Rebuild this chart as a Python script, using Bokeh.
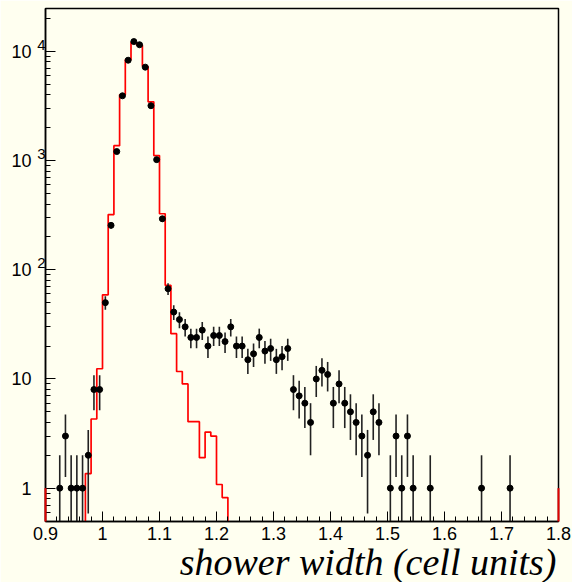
import numpy as np
from bokeh.plotting import figure
from bokeh.models import Range1d, FixedTicker, LogAxis, Title
from bokeh.embed import file_html
from bokeh.resources import INLINE

# ---------------- data ----------------
bin_width = 0.01

# measured data: bin centres and counts (Poisson errors)
data_x = [0.925, 0.935, 0.945, 0.955, 0.965, 0.975, 0.985, 0.995,
          1.005, 1.015, 1.025, 1.035, 1.045, 1.055, 1.065, 1.075, 1.085, 1.095,
          1.105, 1.115, 1.125, 1.135, 1.145, 1.155, 1.165, 1.175, 1.185, 1.195,
          1.205, 1.215, 1.225, 1.235, 1.245, 1.255, 1.265, 1.275, 1.285, 1.295,
          1.305, 1.315, 1.325, 1.335, 1.345, 1.355, 1.365, 1.375, 1.385, 1.395,
          1.405, 1.415, 1.425, 1.435, 1.445, 1.455, 1.465, 1.475, 1.485,
          1.505, 1.515, 1.525, 1.535, 1.545, 1.575, 1.665, 1.715]
data_n = [1, 3, 1, 1, 1, 2, 8, 8,
          50, 255, 1210, 3920, 8300, 12300, 11500, 7170, 3180, 1020,
          293, 67, 41, 35, 30, 24, 24, 28, 20, 25,
          25, 22, 30, 20, 20, 15, 17, 24, 18, 19,
          15, 16, 19, 8, 7, 6, 4, 10, 12, 11,
          6, 9, 6, 5, 4, 3, 2, 5, 4,
          1, 3, 1, 3, 1, 1, 1, 1]

# simulation histogram (red): first bin low edge and bin contents
mc_first_edge = 0.97
mc_values = [1.36, 4.3, 12.4, 59, 320, 1370, 4000, 8400, 12100, 11400,
             7270, 3450, 1110, 326, 72, 26, 11.7, 9.0, 4.06, 4.06,
             1.9, 3.26, 3.0, 1.08, 0.82]
mc_frame_edges = [0.9, 1.8]
mc_frame_level = [1.0, 1.0]

x_ticks = [0.9, 1.0, 1.1, 1.2, 1.3, 1.4, 1.5, 1.6, 1.7, 1.8]
x_tick_labels = ["0.9", "1", "1.1", "1.2", "1.3", "1.4", "1.5", "1.6", "1.7", "1.8"]
y_ticks = [1, 10, 100, 1000, 10000]
y_label_base = ["1", "10", "10", "10", "10"]
y_label_exp = [" ", " ", "2", "3", "4"]
x_title = "shower width (cell units)"

# ---------------- plot ----------------
bg = "#FFFFF0"
ymin, ymax = 0.495, 24700
floor = 1e-2

p = figure(width=572, height=582, x_range=Range1d(0.9, 1.8),
           y_range=Range1d(ymin, ymax), y_axis_type="log",
           output_backend="svg", toolbar_location=None,
           min_border_left=45, min_border_right=14, min_border_top=8,
           min_border_bottom=61, background_fill_color=bg, border_fill_color=bg)
p.xgrid.visible = False
p.ygrid.visible = False
p.outline_line_color = "black"
p.outline_line_width = 1.5

x_minor = [round(0.9 + 0.02 * i, 2) for i in range(1, 45) if i % 5 != 0]
y_minor = [m * 10.0 ** k for k in range(-1, 5) for m in range(2, 10)
           if ymin <= m * 10.0 ** k <= ymax]
p.xaxis.ticker = FixedTicker(ticks=x_ticks, minor_ticks=x_minor)
p.yaxis.ticker = FixedTicker(ticks=y_ticks, minor_ticks=y_minor)
p.xaxis.major_label_overrides = dict(zip(x_ticks, x_tick_labels))

for ax in (p.xaxis[0], p.yaxis[0]):
    ax.major_tick_in = 10
    ax.major_tick_out = 0
    ax.minor_tick_in = 5
    ax.minor_tick_out = 0
    ax.axis_line_width = 1.5
    ax.axis_line_color = "black"
    ax.major_tick_line_color = "black"
    ax.minor_tick_line_color = "black"
    ax.major_tick_line_width = 1
    ax.minor_tick_line_width = 1

p.xaxis.major_label_text_font = "Liberation Sans"
p.xaxis.major_label_text_font_size = "18px"
p.xaxis.major_label_text_color = "black"
p.xaxis.major_label_standoff = 5

# inner y axis: exponents of the decade labels, raised above each tick
ya = p.yaxis[0]
ya.major_label_overrides = {t: e + "\n " for t, e in zip(y_ticks, y_label_exp)}
ya.major_label_text_font = "Liberation Sans"
ya.major_label_text_font_size = "15px"
ya.major_label_text_line_height = 0.8
ya.major_label_text_color = "black"
ya.major_label_standoff = 0

# outer y axis: mantissa "10" / "1"
yb = LogAxis(ticker=FixedTicker(ticks=y_ticks, minor_ticks=[]),
             major_label_overrides=dict(zip(y_ticks, y_label_base)),
             axis_line_color=None, major_tick_line_color=None,
             minor_tick_line_color=None, major_tick_in=0, major_tick_out=0,
             minor_tick_in=0, minor_tick_out=0, major_label_standoff=3,
             major_label_text_font="Liberation Sans",
             major_label_text_font_size="18px", major_label_text_color="black")
p.add_layout(yb, "left")

# axis title, right aligned below the x axis
p.add_layout(Title(text=x_title, align="right", offset=2, standoff=-7,
                   vertical_align="bottom",
                   text_font="Liberation Serif, Times New Roman, serif",
                   text_font_style="italic",
                   text_font_size="38px", text_color="black"), "below")

# red simulation outline
edges = mc_first_edge + bin_width * np.arange(len(mc_values) + 1)
step_x = np.repeat(edges, 2)
step_y = np.concatenate([[floor], np.repeat(mc_values, 2), [floor]])
p.line(step_x, step_y, line_color="#FF0000", line_width=1.7)
edge_r = p.segment(x0=mc_frame_edges, y0=[ymin] * len(mc_frame_edges),
                   x1=mc_frame_edges, y1=mc_frame_level, line_color="#E00000", line_width=2)
edge_r.level = "overlay"

# data points with sqrt(N) errors
n = np.array(data_n, dtype=float)
err = np.sqrt(n)
lo = np.where(n - err > 0, n - err, floor)
hi = n + err
p.segment(x0=data_x, x1=data_x, y0=lo, y1=hi, line_color="#222222", line_width=1.6)
p.scatter(data_x, data_n, size=6, color="black")

open("out.html", "w").write(file_html(p, INLINE))
